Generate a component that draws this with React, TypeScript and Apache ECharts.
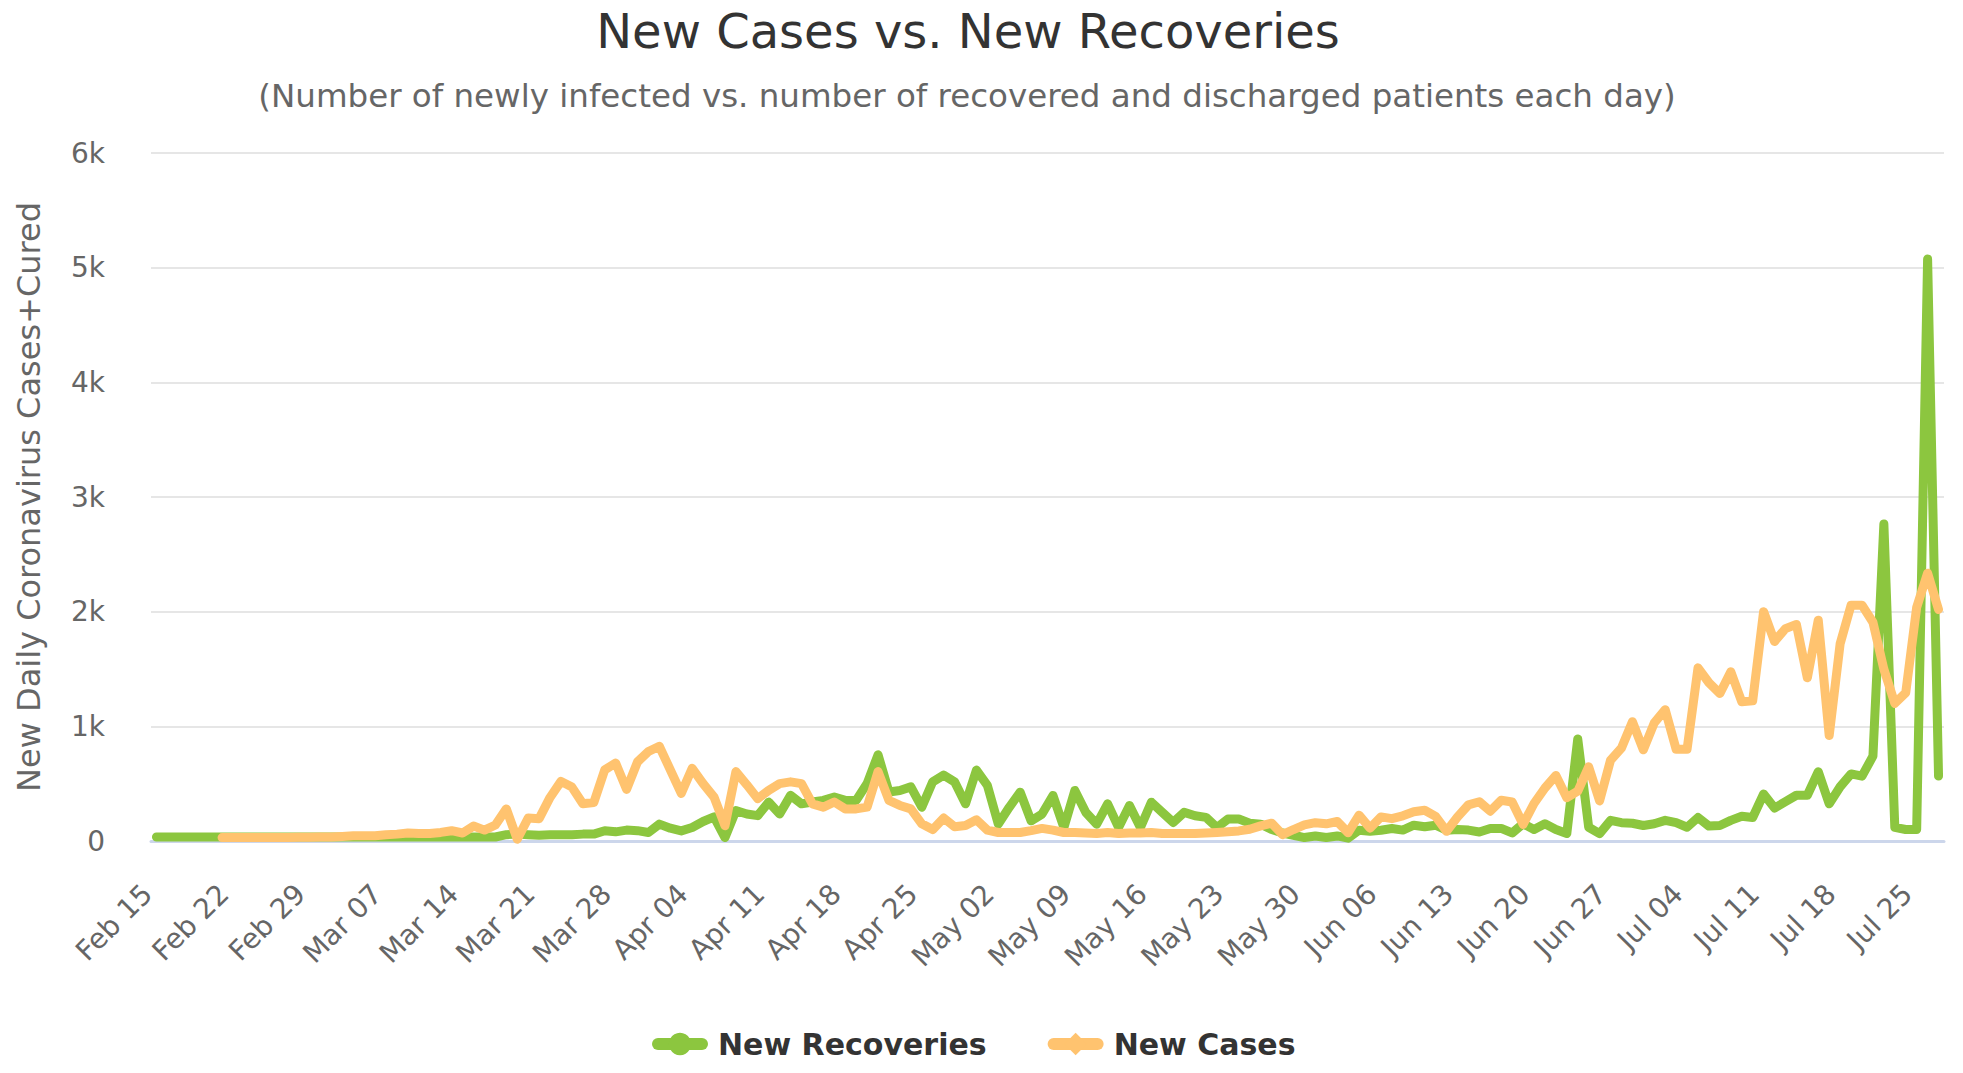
import React, { useEffect, useRef } from "react";
import * as echarts from "echarts";

const FONT = "'DejaVu Sans', 'Noto Sans', sans-serif";

const TITLE = "New Cases vs. New Recoveries";
const SUBTITLE =
  "(Number of newly infected vs. number of recovered and discharged patients each day)";
const Y_NAME = "New Daily Coronavirus Cases+Cured";

const START_DATE = "2020-02-15";
const DAY_COUNT = 164;
const MONTHS = ["Jan", "Feb", "Mar", "Apr", "May", "Jun", "Jul", "Aug", "Sep", "Oct", "Nov", "Dec"];

function buildDates(): string[] {
  const out: string[] = [];
  const d0 = new Date(START_DATE + "T00:00:00Z");
  for (let i = 0; i < DAY_COUNT; i++) {
    const d = new Date(d0.getTime() + i * 86400000);
    const day = d.getUTCDate();
    out.push(MONTHS[d.getUTCMonth()] + " " + (day < 10 ? "0" + day : String(day)));
  }
  return out;
}
const categories = buildDates();

// New Recoveries (green), Feb 15 .. Jul 27
const newRecoveries: number[] = [
  35, 35, 35, 35, 35, 35, 35, 35, 35, 35,
  35, 35, 35, 35, 35, 35, 35, 35, 35, 35,
  35, 35, 35, 35, 35, 35, 35, 35, 35, 35,
  35, 35, 55, 60, 55, 50, 55, 55, 55, 60,
  60, 90, 80, 95, 90, 74, 147, 112, 88, 118,
  170, 210, 30, 265, 236, 221, 339, 236, 398, 324,
  340, 354, 383, 354, 354, 501, 752, 428, 440, 472,
  295, 516, 575, 516, 324, 618, 485, 147, 294, 426,
  176, 235, 397, 118, 441, 250, 147, 324, 118, 309,
  118, 338, 250, 162, 250, 220, 206, 118, 191, 191,
  156, 147, 100, 70, 50, 30, 44, 30, 44, 25,
  94, 85, 94, 109, 95, 138, 124, 138, 94, 100,
  95, 79, 109, 110, 70, 150, 100, 150, 100, 65,
  890, 120, 65, 180, 160, 155, 135, 150, 180, 160,
  120, 205, 130, 135, 180, 215, 205, 410, 287, 343,
  399, 399, 604, 324, 473, 585, 566, 740, 2765, 119,
  100, 100, 5075, 566,
];

// New Cases (orange), Feb 15 .. Jul 27 (no data before Feb 21)
const newCases: (number | null)[] = [
  null, null, null, null, null, null, 30, 30, 30, 30,
  30, 30, 30, 32, 32, 35, 35, 40, 45, 45,
  45, 55, 60, 70, 65, 65, 75, 90, 70, 130,
  95, 140, 280, 15, 200, 195, 380, 520, 470, 325,
  335, 620, 680, 450, 690, 780, 826, 620, 415, 634,
  500, 383, 133, 605, 490, 369, 442, 500, 516, 500,
  324, 295, 340, 280, 280, 295, 605, 354, 310, 280,
  150, 100, 200, 125, 135, 185, 95, 74, 74, 74,
  90, 110, 95, 74, 74, 70, 65, 74, 65, 70,
  70, 74, 65, 65, 65, 65, 70, 74, 80, 88,
  103, 132, 155, 55, 100, 140, 160, 150, 170, 72,
  225, 112, 210, 195, 220, 255, 268, 215, 85, 210,
  315, 342, 260, 355, 340, 145, 327, 462, 572, 378,
  434, 647, 350, 705, 812, 1040, 795, 1030, 1145, 800,
  800, 1510, 1380, 1287, 1476, 1215, 1222, 2000, 1740, 1852,
  1889, 1423, 1926, 920, 1721, 2057, 2057, 1908, 1498, 1200,
  1293, 2038, 2336, 2019,
];

const Y_MIN = 0;
const Y_MAX = 6000;
const Y_STEP = 1000;

const GREEN = "#8cc63f";
const ORANGE = "#ffc36f";

export default function App() {
  const ref = useRef<HTMLDivElement | null>(null);

  useEffect(() => {
    if (!ref.current) return;
    const chart = echarts.init(ref.current, undefined, { renderer: "svg" });
    chart.setOption({
      animation: false,
      backgroundColor: "#ffffff",
      textStyle: { fontFamily: FONT },
      graphic: [
        {
          type: "text",
          x: 968,
          y: 31,
          style: {
            text: TITLE,
            fill: "#333333",
            fontSize: 48,
            fontFamily: FONT,
            align: "center",
            verticalAlign: "middle",
          },
        },
        {
          type: "text",
          x: 967,
          y: 96,
          style: {
            text: SUBTITLE,
            fill: "#666666",
            fontSize: 32.5,
            fontFamily: FONT,
            align: "center",
            verticalAlign: "middle",
          },
        },
      ],
      legend: {
        top: 1024,
        left: 647,
        itemWidth: 44,
        itemHeight: 28,
        itemGap: 61,
        lineStyle: { width: 12 },
        textStyle: {
          fontFamily: FONT,
          fontSize: 30,
          fontWeight: "bold",
          color: "#333333",
          padding: [0, 0, 0, 11],
        },
        data: ["New Recoveries", "New Cases"],
      },
      grid: { left: 151, right: 19, top: 153, bottom: 232, containLabel: false },
      xAxis: {
        type: "category",
        data: categories,
        boundaryGap: true,
        axisTick: { show: false },
        axisLine: { show: true, lineStyle: { color: "#ccd6eb", width: 3 } },
        axisLabel: {
          interval: 6,
          rotate: 45,
          fontSize: 28,
          color: "#666666",
          fontFamily: FONT,
          margin: 39,
          padding: [0, 13, 0, 0],
        },
        splitLine: { show: false },
      },
      yAxis: {
        type: "value",
        min: Y_MIN,
        max: Y_MAX,
        interval: Y_STEP,
        name: Y_NAME,
        nameLocation: "middle",
        nameGap: 106,
        nameTextStyle: { fontFamily: FONT, fontSize: 32, color: "#666666" },
        axisLine: { show: false },
        axisTick: { show: false },
        axisLabel: {
          fontSize: 28,
          color: "#666666",
          fontFamily: FONT,
          margin: 46,
          formatter: (v: number) => (v === 0 ? "0" : v / 1000 + "k"),
        },
        splitLine: { lineStyle: { color: "#e6e6e6", width: 2 } },
      },
      series: [
        {
          name: "New Recoveries",
          type: "line",
          data: newRecoveries,
          symbol: "circle",
          symbolSize: 22,
          showSymbol: false,
          itemStyle: { color: GREEN },
          lineStyle: { color: GREEN, width: 9, cap: "round", join: "round" },
          z: 2,
        },
        {
          name: "New Cases",
          type: "line",
          data: newCases,
          symbol: "diamond",
          symbolSize: 22,
          showSymbol: false,
          connectNulls: false,
          itemStyle: { color: ORANGE },
          lineStyle: { color: ORANGE, width: 9, cap: "round", join: "round" },
          z: 3,
        },
      ],
    });
    return () => chart.dispose();
  }, []);

  return (
    <div
      ref={ref}
      style={{ position: "fixed", left: 0, top: 0, width: 1963, height: 1073, background: "#fff" }}
    />
  );
}
